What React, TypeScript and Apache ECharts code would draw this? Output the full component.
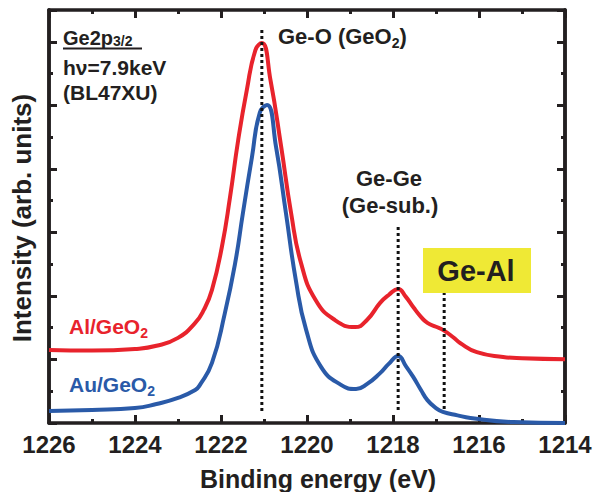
import React, { useEffect, useRef } from "react";
import * as echarts from "echarts";

// ---- data ----
const xTickValues = [1226, 1224, 1222, 1220, 1218, 1216, 1214];

const energyAl = [1226.0, 1225.0, 1224.0, 1223.5, 1223.0, 1222.6, 1222.4, 1222.21, 1221.98, 1221.79, 1221.6, 1221.4, 1221.2, 1221.05, 1220.85, 1220.6, 1220.37, 1220.14, 1219.8, 1219.35, 1218.88, 1218.6, 1218.3, 1218.1, 1217.88, 1217.7, 1217.53, 1217.35, 1217.2, 1217.0, 1216.84, 1216.6, 1216.44, 1216.05, 1215.44, 1215.0, 1214.0];
const intensityAl = [2.30, 2.28, 2.33, 2.43, 2.68, 3.15, 3.56, 4.19, 5.54, 7.11, 8.91, 10.48, 11.74, 11.96, 10.80, 8.69, 6.61, 5.04, 3.87, 3.24, 3.02, 3.25, 3.78, 4.03, 4.22, 3.97, 3.65, 3.34, 3.15, 3.03, 2.93, 2.70, 2.52, 2.23, 2.08, 2.04, 2.01];

const energyAu = [1226.0, 1225.0, 1224.0, 1223.5, 1223.0, 1222.6, 1222.49, 1222.21, 1221.91, 1221.67, 1221.49, 1221.28, 1221.1, 1220.93, 1220.72, 1220.49, 1220.26, 1220.02, 1219.67, 1219.21, 1218.86, 1218.6, 1218.3, 1218.1, 1217.88, 1217.7, 1217.53, 1217.35, 1217.2, 1217.0, 1216.84, 1216.5, 1216.2, 1215.2, 1214.0];
const intensityAu = [0.38, 0.41, 0.47, 0.60, 0.79, 1.04, 1.20, 1.89, 3.46, 5.04, 6.61, 8.37, 9.76, 10.01, 8.69, 6.61, 4.50, 2.93, 1.76, 1.20, 1.07, 1.23, 1.57, 1.86, 2.11, 1.79, 1.45, 1.04, 0.72, 0.47, 0.35, 0.24, 0.16, 0.03, 0.0];

const markerNames = ["Ge-O", "Ge-Ge", "Ge-Al"];
const markerEnergy = [1221.05, 1217.88, 1216.81];
const markerBottom = [0.38, 0.41, 0.44];
const markerTop = [12.43, 6.17, 4.22];

const yMax = 13;

const RED = "#e8232c";
const BLUE = "#2a5aa8";
const INK = "#231f20";
const FONT = "'Liberation Sans', Arial, Helvetica, sans-serif";

export default function App() {
  const ref = useRef<HTMLDivElement>(null);

  useEffect(() => {
    if (!ref.current) return;
    const chart = echarts.init(ref.current, undefined, { renderer: "svg" });

    const canvas = document.createElement("canvas");
    const ctx = canvas.getContext("2d");
    const measure = (s: string, size: number) => {
      if (!ctx) return s.length * size * 0.6;
      ctx.font = `bold ${size}px ${FONT}`;
      return ctx.measureText(s).width;
    };

    const xMin = Math.min(...xTickValues);
    const xMax = Math.max(...xTickValues);

    const xAxisBase = (pos: "top" | "bottom", labels: boolean) => ({
      type: "value" as const,
      position: pos,
      min: xMin,
      max: xMax,
      interval: 2,
      inverse: true,
      axisLine: { show: true, onZero: false, lineStyle: { color: INK, width: 3.5 } },
      axisTick: { show: true, inside: true, length: 8, lineStyle: { color: INK, width: 3 } },
      minorTick: { show: true, splitNumber: 2, length: 4, lineStyle: { color: INK, width: 3 } },
      splitLine: { show: false },
      minorSplitLine: { show: false },
      axisLabel: {
        show: labels,
        fontSize: 24,
        fontWeight: "bold" as const,
        fontFamily: FONT,
        color: INK,
        margin: 9,
        formatter: (v: number) => String(v),
      },
    });

    const yAxisBase = (pos: "left" | "right", interval: number, len: number) => ({
      type: "value" as const,
      position: pos,
      min: 0,
      max: yMax,
      interval,
      axisLine: { show: true, onZero: false, lineStyle: { color: INK, width: 3.5 } },
      axisTick: { show: true, inside: true, length: len, lineStyle: { color: INK, width: 3 } },
      splitLine: { show: false },
      axisLabel: { show: false },
    });

    const curve = (name: string, xs: number[], ys: number[], color: string) => ({
      name,
      type: "line" as const,
      xAxisIndex: 0,
      yAxisIndex: 0,
      data: xs.map((x, i) => [x, ys[i]]),
      smooth: 0.5,
      symbol: "none",
      lineStyle: { color, width: 4 },
      z: 3,
    });

    const markerSeries = markerNames.map((n, i) => ({
      name: n,
      type: "line" as const,
      xAxisIndex: 0,
      yAxisIndex: 0,
      data: [
        [markerEnergy[i], markerBottom[i]],
        [markerEnergy[i], markerTop[i]],
      ],
      symbol: "none",
      lineStyle: { color: "#111", width: 3, type: [3, 3] as any, cap: "butt" as const },
      z: 5,
    }));

    const txt = (
      text: string,
      x: number,
      y: number,
      size: number,
      color: string,
      align: "left" | "center" = "left",
      extra: any = {}
    ) => ({
      type: "text" as const,
      x,
      y,
      z: 20,
      ...extra,
      style: {
        text,
        fill: color,
        fontSize: size,
        fontWeight: "bold",
        fontFamily: FONT,
        align,
        verticalAlign: "middle",
      },
    });

    // main text + lowered small text (+ optional tail), as separate real texts
    const withSub = (
      main: string,
      sub: string,
      tail: string,
      x: number,
      y: number,
      size: number,
      subSize: number,
      dy: number,
      color: string
    ) => {
      const w1 = measure(main, size);
      const w2 = measure(sub, subSize);
      const els: any[] = [txt(main, x, y, size, color), txt(sub, x + w1, y + dy, subSize, color)];
      if (tail) els.push(txt(tail, x + w1 + w2, y, size, color));
      return els;
    };

    chart.setOption({
      animation: false,
      backgroundColor: "#ffffff",
      grid: { left: 49, right: 30, top: 10, bottom: 69, containLabel: false },
      xAxis: [xAxisBase("bottom", true), xAxisBase("top", false)],
      yAxis: [
        yAxisBase("left", 1, 4),
        yAxisBase("left", 2, 8),
        yAxisBase("right", 1, 4),
        yAxisBase("right", 2, 8),
      ],
      series: [
        curve("Al/GeO2", energyAl, intensityAl, RED),
        curve("Au/GeO2", energyAu, intensityAu, BLUE),
        ...markerSeries,
      ],
      graphic: [
        {
          type: "rect",
          shape: { x: 423, y: 248, width: 108, height: 45 },
          style: { fill: "#efe935" },
          z: 10,
        },
        txt("Ge-Al", 476, 271, 29, INK, "center"),
        ...withSub("Ge2p", "3/2", "", 63, 38, 20, 14, 2.5, INK),
        {
          type: "line",
          shape: { x1: 63, y1: 48.5, x2: 142, y2: 48.5 },
          style: { stroke: INK, lineWidth: 2 },
          z: 20,
        },
        txt("hν=7.9keV", 63, 67.5, 21, INK),
        txt("(BL47XU)", 63, 92, 21, INK),
        ...withSub("Ge-O (GeO", "2", ")", 278, 36, 22, 14, 7, INK),
        txt("Ge-Ge", 389, 178, 22, INK, "center"),
        txt("(Ge-sub.)", 390, 205, 22, INK, "center"),
        ...withSub("Al/GeO", "2", "", 69, 326, 21, 14, 6.5, RED),
        ...withSub("Au/GeO", "2", "", 69, 384.5, 21, 14, 6.5, BLUE),
        txt("Binding energy (eV)", 318, 478.5, 25, INK, "center"),
        txt("Intensity (arb. units)", 22, 218, 26, INK, "center", { rotation: Math.PI / 2 }),
      ],
    });

    return () => chart.dispose();
  }, []);

  return (
    <div
      ref={ref}
      style={{ position: "absolute", left: 0, top: 0, width: 595, height: 492, background: "#fff" }}
    />
  );
}
